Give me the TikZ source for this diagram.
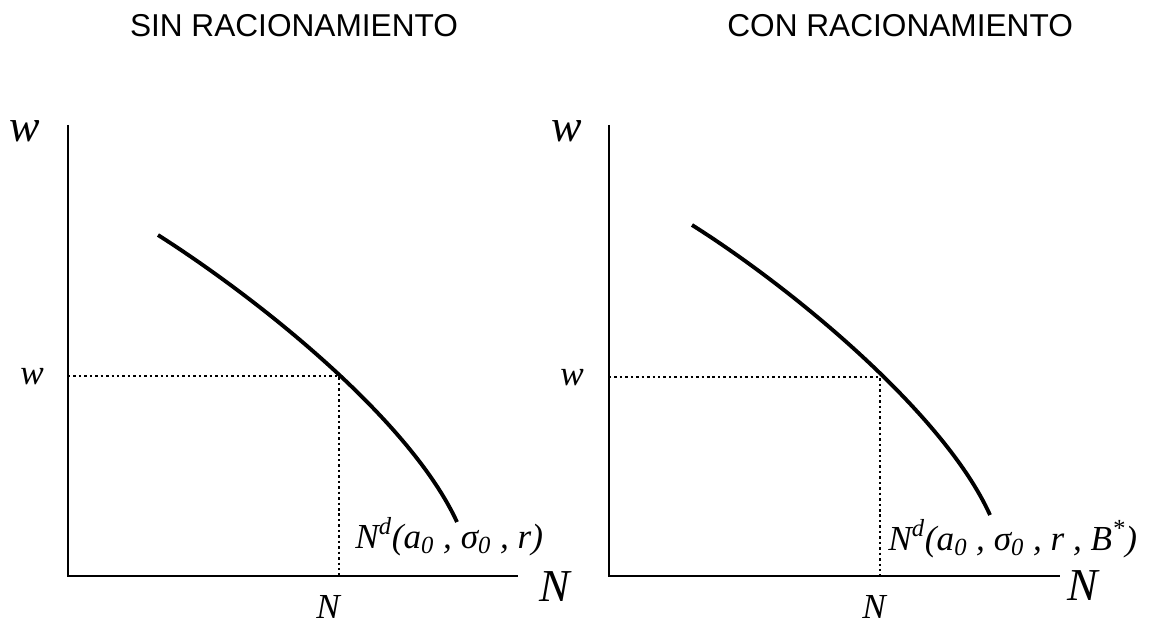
\documentclass[tikz,border=0pt]{standalone}
\usepackage{fontspec}
\setmainfont{Liberation Serif}
\setsansfont{Liberation Sans}
\usetikzlibrary{positioning}

\tikzset{
    axis/.style={line width=1.3pt},
    demand/.style={line width=2.2pt},
    guide/.style={line width=1.1pt, dash pattern=on 1.4pt off 1.7pt},
    title/.style={font=\sffamily\fontsize{18}{21}\selectfont, inner sep=0pt},
    biglbl/.style={font=\itshape\fontsize{26}{30}\selectfont, inner sep=0pt},
    midlbl/.style={font=\itshape\fontsize{20}{24}\selectfont, inner sep=0pt},
    curvelbl/.style={font=\itshape\fontsize{20}{24}\selectfont, inner sep=0pt, anchor=base west}
}

\begin{document}
\begin{tikzpicture}[x=0.02cm, y=-0.02cm]
\useasboundingbox (0,0) rectangle (1155,628);
% titles
\node[title] (tSin) at (294,26) {SIN RACIONAMIENTO};
\node[title, anchor=west] (tCon) at (727,26) {CON RACIONAMIENTO};

% left panel
\coordinate (oL) at (68,576);
\coordinate (yL) at (68,125);
\coordinate (xL) at (518,576);
\coordinate (aL) at (158,235);
\coordinate (eL) at (339,376);
\coordinate (bL) at (457,522);
\draw[axis] (yL) -- (oL) -- (xL);
\draw[demand] (aL) .. controls (260,300) and (410,420) .. (bL);
\draw[guide] (oL |- eL) -- (eL) -- (eL |- oL);
\node[biglbl] (wL) at (25,131) {w};
\node[midlbl] (weqL) at (32,377) {w};
\node[biglbl] (NL) at (555,587) {N};
\node[midlbl] (NeqL) at (328,607) {N};
\node[curvelbl] (NdL) at (355,548) {N\textsuperscript{d}(a\textsubscript{0} , σ\textsubscript{0} , r)};

% right panel
\coordinate (oR) at (609,576);
\coordinate (yR) at (609,125);
\coordinate (xR) at (1060,576);
\coordinate (aR) at (692,225);
\coordinate (eR) at (880,377);
\coordinate (bR) at (990,515);
\draw[axis] (yR) -- (oR) -- (xR);
\draw[demand] (aR) .. controls (795,290) and (945,415) .. (bR);
\draw[guide] (oR |- eR) -- (eR) -- (eR |- oR);
\node[biglbl] (wR) at (567,131) {w};
\node[midlbl] (weqR) at (572,378) {w};
\node[biglbl] (NR) at (1083,586) {N};
\node[midlbl] (NeqR) at (874,607) {N};
\node[curvelbl] (NdR) at (888,550) {N\textsuperscript{d}(a\textsubscript{0} , σ\textsubscript{0} , r , B\textsuperscript{*})};
\end{tikzpicture}
\end{document}
